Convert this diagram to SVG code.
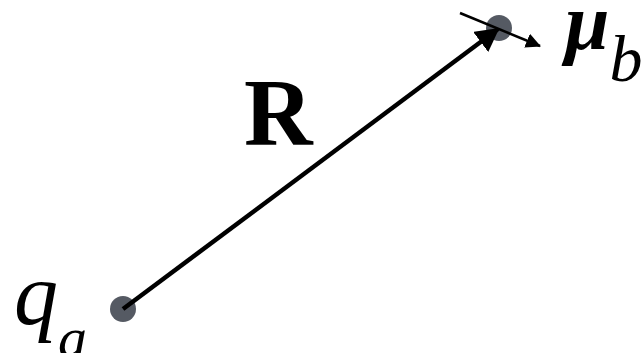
<svg xmlns="http://www.w3.org/2000/svg" width="643" height="353" viewBox="0 0 643 353">
<style>
.dot{fill:#555a63}
.lbl{fill:#000;font-family:"Liberation Serif","Times New Roman",serif}
</style>
<defs>
<marker id="ah" markerWidth="5.2" markerHeight="5.6" refX="4.8" refY="2.8" orient="auto" markerUnits="strokeWidth"><path d="M0,0 L5.2,2.8 L0,5.6 z" fill="#000"/></marker>
<marker id="ah2" markerWidth="6" markerHeight="6" refX="5.6" refY="3" orient="auto" markerUnits="strokeWidth"><path d="M0,0 L6,3 L0,6 z" fill="#000"/></marker>
</defs>
<g id="node-qa">
<circle class="dot" cx="123" cy="309" r="13"/>
<text class="lbl" x="14" y="324" font-size="88" font-style="italic">q<tspan font-size="58" dy="33">a</tspan></text>
</g>
<g id="node-mub">
<circle class="dot" cx="499" cy="28" r="13"/>
<text class="lbl" x="565" y="49" font-size="80" font-style="italic" font-weight="bold">μ<tspan font-size="66" font-weight="normal" dy="32">b</tspan></text>
</g>
<g id="connectors">
<line x1="123" y1="309" x2="498" y2="29" stroke="#000" stroke-width="4.5" marker-end="url(#ah)"/>
<line x1="460" y1="13" x2="540" y2="46" stroke="#000" stroke-width="2.5" marker-end="url(#ah2)"/>
</g>
<text class="lbl" x="244" y="145" font-size="95" font-weight="bold">R</text>
</svg>
